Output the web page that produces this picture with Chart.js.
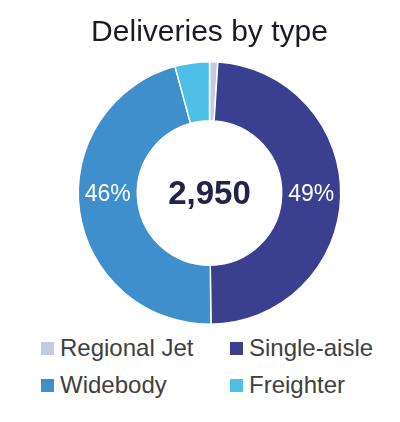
<!DOCTYPE html>
<html>
<head>
<meta charset="utf-8">
<script src="https://cdn.jsdelivr.net/npm/chart.js@4/dist/chart.umd.min.js"></script>
<style>
  html, body { margin: 0; padding: 0; background: #fff; }
  #wrap { position: relative; width: 400px; height: 422px; font-family: "Liberation Sans", Arial, sans-serif; }
  #box { position: absolute; left: 0; top: 0; width: 400px; height: 330px; }
  #legend { position: absolute; left: 0; top: 330px; width: 400px; }
  .item { position: absolute; display: flex; align-items: center; font-size: 24px; color: #404040; white-space: nowrap; }
  .item span.sq { display: inline-block; width: 13px; height: 13px; margin-right: 6px; }
</style>
</head>
<body>
<div id="wrap">
  <div id="box"><canvas id="graficoEntregas"></canvas></div>
  <div id="legend"></div>
</div>
<script>
// Dados
const categories = ['Regional Jet', 'Single-aisle', 'Widebody', 'Freighter'];
const deliveries = [30, 1440, 1355, 125];
const colors = ['#c3cbe2', '#3a3f8f', '#3f8fcc', '#4ebfe7'];
const titleText = 'Deliveries by type';

const total = deliveries.reduce((a, b) => a + b, 0);

// Rótulos de percentagem dentro do anel + total no centro
const labelsPlugin = {
  id: 'labelsPlugin',
  afterDatasetsDraw(chart) {
    const ctx = chart.ctx;
    const meta = chart.getDatasetMeta(0);
    const c = meta.data[0];
    ctx.save();
    ctx.textAlign = 'center';
    ctx.textBaseline = 'middle';

    meta.data.forEach((arc, i) => {
      const pct = Math.round(deliveries[i] / total * 100);
      if (pct < 10) return;
      // metade do anel, alinhado à altura do centro (como no original)
      const mid = (arc.startAngle + arc.endAngle) / 2;
      const r = (arc.innerRadius + arc.outerRadius) / 2;
      const x = c.x + (Math.cos(mid) >= 0 ? r : -r);
      ctx.fillStyle = '#ffffff';
      ctx.font = '23px "Liberation Sans", Arial, sans-serif';
      ctx.fillText(pct + '%', x, c.y + 2);
    });

    ctx.fillStyle = '#22234a';
    ctx.font = 'bold 33px "Liberation Sans", Arial, sans-serif';
    ctx.fillText(total.toLocaleString('en-US'), c.x, c.y + 2);
    ctx.restore();
  }
};

const canvas = document.getElementById('graficoEntregas');
const chart = new Chart(canvas.getContext('2d'), {
  type: 'doughnut',
  data: {
    labels: categories,
    datasets: [{
      data: deliveries,
      backgroundColor: colors,
      borderColor: '#ffffff',
      borderWidth: 1.5
    }]
  },
  options: {
    responsive: true,
    maintainAspectRatio: false,
    animation: false,
    cutout: '55%',
    layout: { padding: { left: 19, right: 0, top: 0, bottom: 5 } },
    plugins: {
      legend: { display: false },
      tooltip: { enabled: false },
      title: {
        display: true,
        text: titleText,
        color: '#1b1b26',
        font: { family: '"Liberation Sans", Arial, sans-serif', size: 30, weight: 'normal' },
        padding: { top: 15, bottom: 10 }
      }
    }
  },
  plugins: [labelsPlugin]
});

// Legenda em grelha 2x2
const legend = document.getElementById('legend');
const cols = [41, 230];
const rows = [18, 55];
categories.forEach((name, i) => {
  const el = document.createElement('div');
  el.className = 'item';
  el.style.left = cols[i % 2] + 'px';
  el.style.top = (rows[Math.floor(i / 2)] - 14) + 'px';
  el.style.height = '28px';
  el.innerHTML = '<span class="sq" style="background:' + colors[i] + '"></span>' + name;
  legend.appendChild(el);
});
</script>
</body>
</html>
